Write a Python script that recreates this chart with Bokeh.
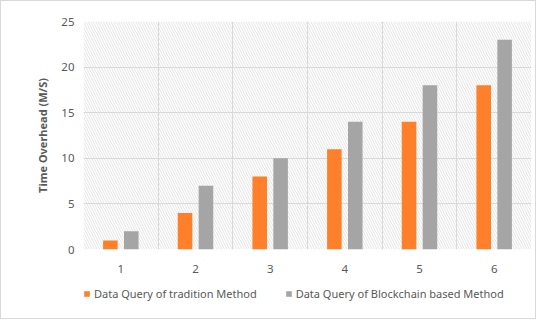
from bokeh.plotting import figure
from bokeh.layouts import column
from bokeh.models import FixedTicker, BoxAnnotation, Legend, LegendItem, ColumnDataSource
from bokeh.embed import file_html
from bokeh.resources import INLINE

categories = [1, 2, 3, 4, 5, 6]
tradition = [1, 4, 8, 11, 14, 18]
blockchain = [2, 7, 10, 14, 18, 23]
y_ticks = [0, 5, 10, 15, 20, 25]
series_names = ["Data Query of tradition Method", "Data Query of Blockchain based Method"]

ORANGE = "#FF7F2A"
GRAY = "#A5A5A5"
TXT = "#595959"
GRID = "#D9D9D9"
FONT = "Noto Sans"

p = figure(width=534, height=276, output_backend="svg", toolbar_location=None,
           x_range=(0.5, 6.5), y_range=(0, 25),
           min_border_left=82, min_border_right=4, min_border_top=20, min_border_bottom=28)
p.outline_line_color = None
p.background_fill_color = "white"

hatch = BoxAnnotation(fill_alpha=0, line_color=None, hatch_pattern="left_diagonal_line",
                      hatch_color="#E4E4E4", hatch_scale=5, hatch_weight=1, hatch_alpha=1,
                      level="image")
p.add_layout(hatch)

off = 0.14
w = 0.195
src = ColumnDataSource(dict(
    x1=[c - off for c in categories], x2=[c + off for c in categories],
    t=tradition, b=blockchain))
p.vbar(x="x1", top="t", bottom=0, width=w, source=src, fill_color=ORANGE, line_color=None)
p.vbar(x="x2", top="b", bottom=0, width=w, source=src, fill_color=GRAY, line_color=None)

p.xaxis.ticker = FixedTicker(ticks=categories)
p.yaxis.ticker = FixedTicker(ticks=y_ticks)
p.xgrid.ticker = FixedTicker(ticks=[c - 0.5 for c in categories] + [categories[-1] + 0.5])
p.ygrid.ticker = FixedTicker(ticks=y_ticks)
for g in (p.xgrid, p.ygrid):
    g.grid_line_color = GRID
    g.grid_line_width = 1

for ax in (p.xaxis, p.yaxis):
    ax.axis_line_color = None
    ax.major_tick_line_color = None
    ax.minor_tick_line_color = None
    ax.major_label_text_color = TXT
    ax.major_label_text_font = FONT
    ax.major_label_text_font_size = "11.5px"
p.xaxis.major_label_standoff = 9
p.yaxis.major_label_standoff = 3

p.yaxis.axis_label = "Time Overhead (M/S)"
p.yaxis.axis_label_text_font = FONT
p.yaxis.axis_label_text_font_size = "11px"
p.yaxis.axis_label_text_font_style = "bold"
p.yaxis.axis_label_text_color = TXT
p.yaxis.axis_label_standoff = 8

# legend strip (bars of the same data, kept out of its view)
lg = figure(width=534, height=41, output_backend="svg", toolbar_location=None,
            x_range=(0, 1), y_range=(1000, 1001), x_axis_location=None, y_axis_location=None,
            min_border=0, min_border_left=53, min_border_right=4)
lg.outline_line_color = None
lg.xgrid.visible = False
lg.ygrid.visible = False
l1 = lg.vbar(x="x1", top="t", bottom=0, width=w, source=src, fill_color=ORANGE, line_color=None)
l2 = lg.vbar(x="x2", top="b", bottom=0, width=w, source=src, fill_color=GRAY, line_color=None)
legend = Legend(items=[LegendItem(label=series_names[0], renderers=[l1]),
                       LegendItem(label=series_names[1], renderers=[l2])],
                orientation="horizontal", location=(0, 17),
                label_text_font=FONT, label_text_font_size="11px", label_text_color=TXT,
                glyph_width=7, glyph_height=7, label_standoff=4, spacing=28,
                background_fill_alpha=0, border_line_color=None, padding=0, margin=0)
lg.add_layout(legend)

layout = column(p, lg, spacing=0, styles={"border": "1px solid #D9D9D9"})
open("out.html", "w").write(file_html(layout, INLINE))
